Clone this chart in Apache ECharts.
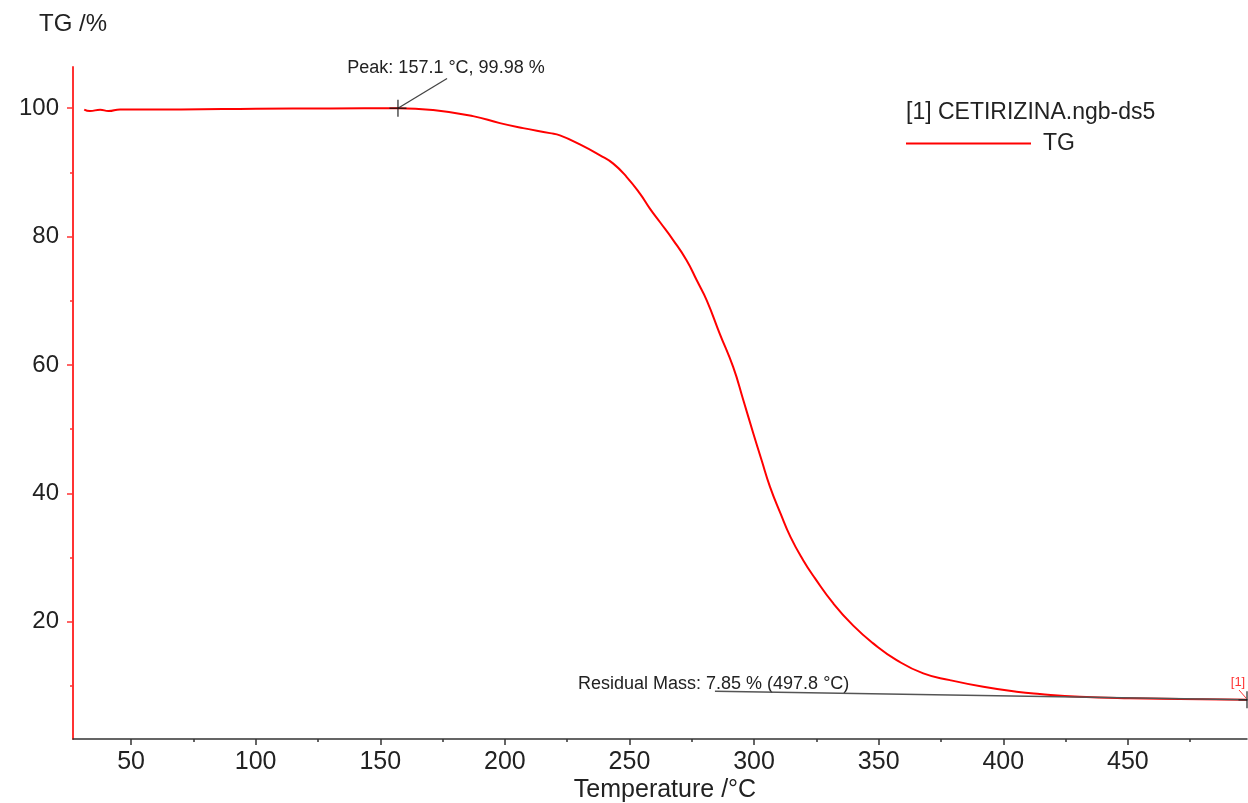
<!DOCTYPE html>
<html>
<head>
<meta charset="utf-8">
<script src="https://cdn.jsdelivr.net/npm/echarts@6/dist/echarts.min.js"></script>
<style>
html,body{margin:0;padding:0;background:#fff;}
#chart{width:1248px;height:803px;}
</style>
</head>
<body>
<div id="chart"></div>
<script>
// ---- data ----
const temps = [31.2, 33.5, 37.6, 40.9, 45.6, 70, 100, 130, 157.1, 171.2, 187.2, 198.0, 207.3, 218.1, 222.1, 230.1, 238.2, 243.5, 248.9, 254.2, 258.2, 262.2, 267.6, 272.9, 277.0, 281.0, 286.2, 291.6, 295.7, 299.7, 303.0, 306.4, 310.6, 314.6, 319.7, 324.4, 331.8, 339.8, 347.8, 357.2, 367.9, 378.6, 392.0, 405.3, 414.7, 430.7, 450.8, 470.9, 497.8];
const tg = [99.75, 99.53, 99.75, 99.55, 99.8, 99.8, 99.9, 99.95, 99.98, 99.69, 98.75, 97.66, 96.88, 96.1, 95.75, 94.35, 92.64, 91.35, 89.26, 86.68, 84.35, 82.26, 79.41, 76.3, 73.18, 70.07, 64.89, 59.69, 54.51, 49.33, 45.2, 41.02, 36.88, 33.23, 29.6, 26.8, 22.86, 19.4, 16.64, 14.04, 11.97, 10.92, 9.88, 9.10, 8.75, 8.33, 8.08, 7.97, 7.85];
const xMajorTicks = [50, 100, 150, 200, 250, 300, 350, 400, 450];
const xMinorTicks = [75, 125, 175, 225, 275, 325, 375, 425, 475];
const yMajorTicks = [20, 40, 60, 80, 100];
const yMinorTicks = [10, 30, 50, 70, 90];
const peak = [157.1, 99.98];
const peakLeaderEnd = [176.8, 104.6];
const residual = [497.8, 7.85];
const residualLineStart = [284.3, 9.2];
const seriesName = 'TG';
const fileName = '[1] CETIRIZINA.ngb-ds5';
const peakText = 'Peak: 157.1 °C, 99.98 %';
const residualText = 'Residual Mass: 7.85 % (497.8 °C)';

const FONT = '"Liberation Sans", Arial, sans-serif';
const X_MIN = 26.7, X_MAX = 497.8, Y_MIN = 1.75, Y_MAX = 106.4;

const chart = echarts.init(document.getElementById('chart'), null, {renderer: 'canvas'});
const plus = 'path://M0,7.35H16V8.65H0Z M7.35,0H8.65V16H7.35Z';

const option = {
  animation: false,
  backgroundColor: '#fff',
  grid: {left: 73, right: 1, top: 67, bottom: 64, containLabel: false},
  xAxis: [
    {
      type: 'value', min: X_MIN, max: X_MAX,
      axisLine: {show: true, onZero: false, lineStyle: {color: '#333', width: 1.5}},
      axisTick: {show: true, inside: false, length: 6, customValues: xMajorTicks, lineStyle: {color: '#333', width: 1.5}},
      axisLabel: {show: true, customValues: xMajorTicks, color: '#222', fontSize: 25, fontFamily: FONT, margin: 11},
      splitLine: {show: false}
    },
    {
      type: 'value', min: X_MIN, max: X_MAX, position: 'bottom',
      axisLine: {show: false},
      axisTick: {show: true, length: 3, customValues: xMinorTicks, lineStyle: {color: '#333', width: 1.5}},
      axisLabel: {show: false},
      splitLine: {show: false}
    }
  ],
  yAxis: [
    {
      type: 'value', min: Y_MIN, max: Y_MAX,
      axisLine: {show: true, onZero: false, lineStyle: {color: '#ff3333', width: 2}},
      axisTick: {show: true, length: 6, customValues: yMajorTicks, lineStyle: {color: '#ff3333', width: 1.5}},
      axisLabel: {show: true, customValues: yMajorTicks, color: '#222', fontSize: 24, fontFamily: FONT, margin: 14},
      splitLine: {show: false}
    },
    {
      type: 'value', min: Y_MIN, max: Y_MAX, position: 'left',
      axisLine: {show: false},
      axisTick: {show: true, length: 3, customValues: yMinorTicks, lineStyle: {color: '#ff3333', width: 1.5}},
      axisLabel: {show: false},
      splitLine: {show: false}
    }
  ],
  legend: {
    data: [{name: seriesName, icon: 'rect'}],
    left: 906, top: 132, padding: 0,
    itemWidth: 125, itemHeight: 2,
    itemGap: 10,
    textStyle: {color: '#222', fontSize: 23, fontFamily: FONT, padding: [0, 0, 0, 7]}
  },
  series: [
    {
      name: seriesName,
      type: 'line',
      xAxisIndex: 0, yAxisIndex: 0,
      data: temps.map((t, i) => [t, tg[i]]),
      showSymbol: false,
      smooth: 0.5,
      lineStyle: {color: '#ff0000', width: 2},
      itemStyle: {color: '#ff0000'},
      clip: false,
      markLine: {
        silent: true,
        symbol: ['none', 'none'],
        label: {show: false},
        animation: false,
        data: [
          [{coord: peak, lineStyle: {color: '#444', width: 1.3, type: 'solid'}}, {coord: peakLeaderEnd}],
          [{coord: residualLineStart, lineStyle: {color: '#555', width: 1.5, type: 'solid'}}, {coord: residual}]
        ]
      }
    },
    {
      name: 'markers',
      type: 'scatter',
      xAxisIndex: 0, yAxisIndex: 0,
      data: [peak, residual],
      symbol: plus,
      symbolSize: [17, 17],
      itemStyle: {color: '#111'},
      silent: true,
      clip: false,
      z: 5
    }
  ],
  graphic: [
    {type: 'text', left: 39, top: 12, style: {text: 'TG /%', fill: '#222', font: '24px ' + FONT}},
    {type: 'text', left: 906, top: 101, style: {text: fileName, fill: '#222', font: '23px ' + FONT}},
    {type: 'text', x: 446, y: 68, style: {text: peakText, fill: '#222', font: '18px ' + FONT, align: 'center', verticalAlign: 'middle'}},
    {type: 'text', x: 578, y: 684, style: {text: residualText, fill: '#222', font: '18px ' + FONT, align: 'left', verticalAlign: 'middle'}},
    {type: 'text', x: 1238, y: 682, style: {text: '[1]', fill: '#ff3333', font: '13px ' + FONT, align: 'center', verticalAlign: 'middle'}},
    {type: 'line', shape: {x1: 1239, y1: 690, x2: 1246, y2: 698}, style: {stroke: '#ff3333', lineWidth: 1}},
    {type: 'text', x: 665, y: 790, style: {text: 'Temperature /°C', fill: '#222', font: '25px ' + FONT, align: 'center', verticalAlign: 'middle'}}
  ]
};
chart.setOption(option);
</script>
</body>
</html>
